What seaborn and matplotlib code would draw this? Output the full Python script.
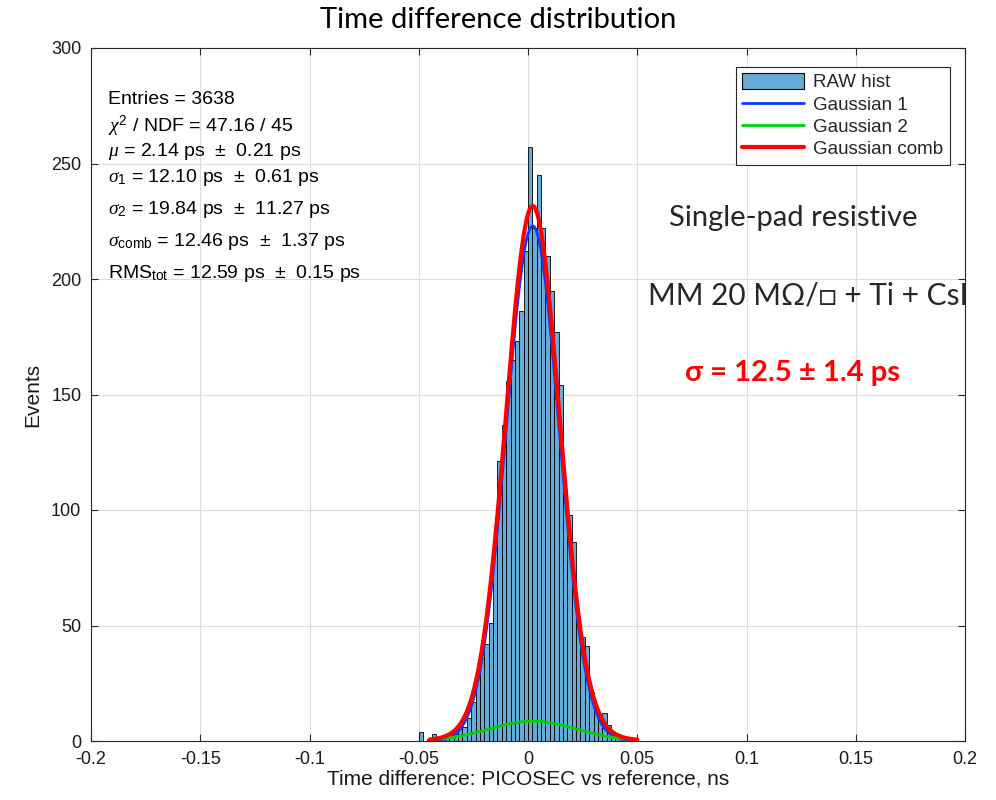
import numpy as np
import pandas as pd
import matplotlib
matplotlib.use("Agg")
import matplotlib.pyplot as plt
import seaborn as sns
from matplotlib.patches import Patch
from matplotlib.lines import Line2D

# ---------------- data ----------------
bin_edges_start = -0.05    # ns
bin_width = 0.002          # ns
counts = [4, 0, 1, 3, 1, 1, 2, 4, 3, 5,
          6, 10, 17, 28, 36, 42, 51, 85, 121, 137,
          156, 165, 173, 186, 212, 257, 222, 245, 222, 210,
          195, 177, 154, 109, 98, 86, 51, 45, 41, 21,
          15, 10, 12, 7, 4, 3, 2, 1, 0, 1]

# fit parameters (ps) and amplitudes (events)
mu_ps = 2.14
sigma1_ps = 12.10
sigma2_ps = 19.84
amp1 = 223.0
amp2 = 8.6
fit_range = (-0.045, 0.05)

stats_lines = [
    "Entries = 3638",
    r"$\chi^2$ / NDF = 47.16 / 45",
    r"$\mu$ = 2.14 ps $\,\pm\,$ 0.21 ps",
    r"$\sigma_1$ = 12.10 ps $\,\pm\,$ 0.61 ps",
    r"$\sigma_2$ = 19.84 ps $\,\pm\,$ 11.27 ps",
    r"$\sigma_{\rm comb}$ = 12.46 ps $\,\pm\,$ 1.37 ps",
    r"RMS$_{\rm tot}$ = 12.59 ps $\,\pm\,$ 0.15 ps",
]
stats_py = [99, 126, 152, 178, 209, 242, 274]

xticks = [-0.2, -0.15, -0.1, -0.05, 0, 0.05, 0.1, 0.15, 0.2]
xtick_labels = ["-0.2", "-0.15", "-0.1", "-0.05", "0", "0.05", "0.1", "0.15", "0.2"]
yticks = [0, 50, 100, 150, 200, 250, 300]

# ---------------- build ----------------
nb = len(counts)
centers = bin_edges_start + bin_width * (np.arange(nb) + 0.5)
df = pd.DataFrame({"t": centers, "n": np.asarray(counts, dtype=float)})

xf = np.linspace(fit_range[0], fit_range[1], 600)
mu = mu_ps / 1000
g1 = amp1 * np.exp(-0.5 * ((xf - mu) / (sigma1_ps / 1000)) ** 2)
g2 = amp2 * np.exp(-0.5 * ((xf - mu) / (sigma2_ps / 1000)) ** 2)
curves = pd.DataFrame({"x": xf, "g1": g1, "g2": g2, "gc": g1 + g2})

sns.set_theme(style="white")
plt.rcParams["font.family"] = ["Liberation Sans", "DejaVu Sans"]
plt.rcParams["mathtext.fontset"] = "custom"
plt.rcParams["mathtext.rm"] = "Liberation Sans"
plt.rcParams["mathtext.it"] = "Liberation Serif:italic"
plt.rcParams["mathtext.bf"] = "Liberation Sans:bold"

axcol = "#262626"
fig = plt.figure(figsize=(9.96, 8.0), dpi=100)
ax = fig.add_axes([91 / 996, 1 - 741 / 800, (965 - 91) / 996, (741 - 48) / 800])

bar_color = (0.4, 0.668, 0.845)
sns.histplot(data=df, x="t", weights="n", binwidth=bin_width,
             binrange=(bin_edges_start, bin_edges_start + nb * bin_width), ax=ax,
             color=bar_color, alpha=1.0, edgecolor="black", linewidth=0.6,
             legend=False)
sns.lineplot(data=curves, x="x", y="g1", ax=ax, color="#0a3cff", linewidth=2.0)
sns.lineplot(data=curves, x="x", y="g2", ax=ax, color="#00d400", linewidth=2.0)
sns.lineplot(data=curves, x="x", y="gc", ax=ax, color="#ff0000", linewidth=3.0)

ax.set_xlim(-0.2, 0.2)
ax.set_ylim(0, 300)
ax.set_xticks(xticks)
ax.set_xticklabels(xtick_labels)
ax.set_yticks(yticks)
ax.grid(True, color="#dcdcdc", linewidth=0.8)
ax.set_axisbelow(True)
for s in ax.spines.values():
    s.set_color(axcol)
    s.set_linewidth(0.8)
    s.set_visible(True)
ax.tick_params(direction="in", length=5, width=0.8, colors=axcol,
               labelsize=13, labelcolor="#1a1a1a", top=True, right=True,
               bottom=True, left=True, labeltop=False, labelright=False, pad=7)
ax.set_xlabel("Time difference: PICOSEC vs reference, ns", fontsize=15,
              color="#1a1a1a", labelpad=1)
ax.set_ylabel("Events", fontsize=15, color="#1a1a1a", labelpad=6)

fig.text(0.5, 1 - 20 / 800, "Time difference distribution", ha="center",
         va="center", fontsize=21, family=["Lato", "DejaVu Sans"], color="black")

for line, py in zip(stats_lines, stats_py):
    fig.text(108 / 996, 1 - py / 800, line, ha="left", va="center",
             fontsize=14, color="black")

handles = [Patch(facecolor=bar_color, edgecolor="black", linewidth=0.8),
           Line2D([], [], color="#0a3cff", lw=2.0),
           Line2D([], [], color="#00d400", lw=2.0),
           Line2D([], [], color="#ff0000", lw=3.0)]
leg = ax.legend(handles, ["RAW hist", "Gaussian 1", "Gaussian 2", "Gaussian comb"],
                loc="upper right", bbox_to_anchor=(950 / 996, 1 - 66.5 / 800),
                bbox_transform=fig.transFigure, borderaxespad=0,
                fontsize=13.5, frameon=True,
                fancybox=False, framealpha=1, edgecolor=axcol,
                handlelength=3.3, handleheight=0.9, labelspacing=0.22,
                borderpad=0.35, handletextpad=0.5)
leg.get_frame().set_linewidth(0.8)

fig.text(793 / 996, 1 - 218 / 800, "Single-pad resistive", ha="center",
         va="center", fontsize=21, family=["Lato", "DejaVu Sans"])
fig.text(808 / 996, 1 - 296 / 800, "MM 20 MΩ/□ + Ti + CsI", ha="center",
         va="center", fontsize=21.5, family=["Lato", "DejaVu Sans"])
fig.text(792 / 996, 1 - 373 / 800, "σ = 12.5 ± 1.4 ps", ha="center",
         va="center", fontsize=21, fontweight="bold", color="#ff0000",
         family=["Lato", "DejaVu Sans"])

fig.savefig("out.png", dpi=100, facecolor="white")
